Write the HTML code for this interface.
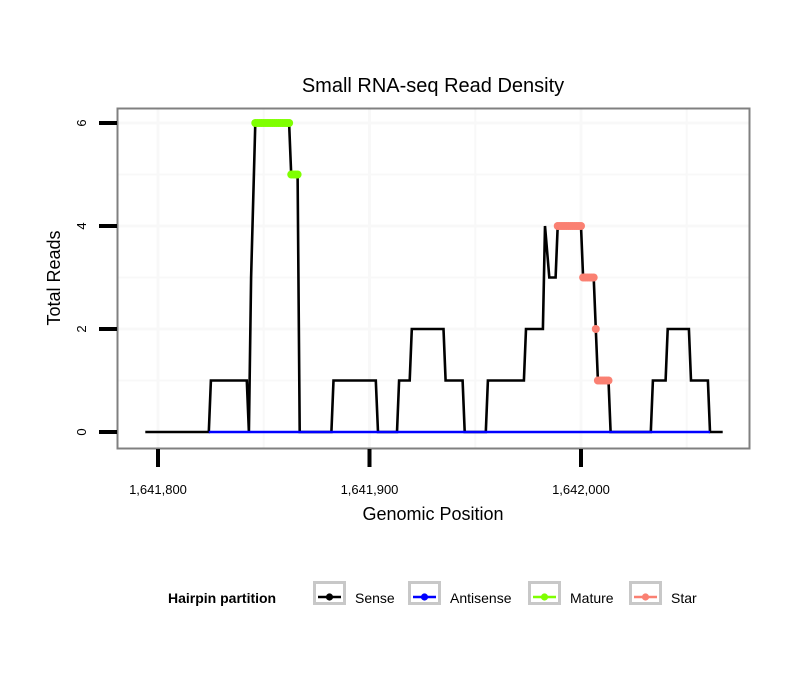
<!DOCTYPE html>
<html><head><meta charset="utf-8"><style>
html,body{margin:0;padding:0;background:#fff;}
svg{display:block;font-family:"Liberation Sans",sans-serif;}
</style></head><body>
<svg id="chart" width="810" height="690" viewBox="0 0 810 690">
<rect x="0" y="0" width="810" height="690" fill="#fff"/>
<text x="433" y="92" font-size="20" text-anchor="middle" fill="#000">Small RNA-seq Read Density</text>
<g id="grid"></g>
<g id="series"></g>
<rect x="117.5" y="108.5" width="632" height="340" fill="none" stroke="#808080" stroke-width="2"/>
<g id="axes"></g>
<text x="433" y="520" font-size="18" text-anchor="middle">Genomic Position</text>
<text transform="translate(60,278) rotate(-90)" font-size="18" text-anchor="middle">Total Reads</text>
<g>
<text x="168" y="603" font-size="14" font-weight="bold">Hairpin partition</text>
<g id="legend-items"></g>
</g>
</svg>
<script>
const BASE = 1641800;
const sensePos = [-6,24,25,42,43,44,46,62,63,66,67,82,83,103,104,113,114,119,120,135,136,144,145,155,156,173,174,182,183,185,188,189,200,201,206,207,208,213,214,233,234,240,241,251,252,260,261,267];
const senseVal = [0,0,1,1,0,3,6,6,5,5,0,0,1,1,0,0,1,1,2,2,1,1,0,0,1,1,2,2,4,3,3,4,4,3,3,2,1,1,0,0,1,1,2,2,1,1,0,0];
const antisensePos = [24,261];
const antisenseVal = [0,0];
const maturePos = [46,47,48,49,50,51,52,53,54,55,56,57,58,59,60,61,62,63,64,65,66];
const matureVal = [6,6,6,6,6,6,6,6,6,6,6,6,6,6,6,6,6,5,5,5,5];
const starPos = [189,190,191,192,193,194,195,196,197,198,199,200,201,202,203,204,205,206,207,208,209,210,211,212,213];
const starVal = [4,4,4,4,4,4,4,4,4,4,4,4,3,3,3,3,3,3,2,1,1,1,1,1,1];
const xTicks = [0,100,200];
const xTickLabels = ["1,641,800","1,641,900","1,642,000"];
const yTicks = [0,2,4,6];
const yTickLabels = ["0","2","4","6"];
const legendLabels = ["Sense","Antisense","Mature","Star"];
const legendColors = ["#000000","#0000ff","#7fff00","#fa8072"];

const NS = "http://www.w3.org/2000/svg";
const px = p => 158 + p * 2.115;
const py = v => 432 - v * 51.5;
function mk(tag, attrs, parent){const e=document.createElementNS(NS,tag);for(const k in attrs)e.setAttribute(k,attrs[k]);parent.appendChild(e);return e;}

const grid = document.getElementById('grid');
for (let v = 1; v <= 6; v++) {
  const g = mk('line',{x1:118,x2:749,y1:py(v),y2:py(v),stroke:'#f8f8f8','stroke-width':v%2?2:3},grid);
  
  
}
for (let p = -50; p <= 300; p += 50) {
  const x = px(p); if (x < 118 || x > 749) continue;
  const g = mk('line',{x1:x,x2:x,y1:109,y2:448,stroke:'#f8f8f8','stroke-width':p%100?2:3},grid);
  
  
}

const series = document.getElementById('series');
function path(pos, val){return pos.map((p,i)=>(i?'L':'M')+px(p).toFixed(1)+','+py(val[i]).toFixed(1)).join(' ');}
const sense = mk('path',{d:path(sensePos,senseVal),fill:'none',stroke:'#000','stroke-width':2.6,'stroke-linejoin':'miter'},series);


const anti = mk('path',{d:path(antisensePos,antisenseVal),fill:'none',stroke:'#0000ff','stroke-width':2.6},series);


function drawPts(pos,val,color,name){
  pos.forEach((p,i)=>{
    const c = mk('circle',{cx:px(p),cy:py(val[i]),r:4,fill:color},series);
    
    
  });
}
drawPts(maturePos,matureVal,'#7fff00','mature-point');
drawPts(starPos,starVal,'#fa8072','star-point');

const axes = document.getElementById('axes');
xTicks.forEach((t,i)=>{
  const l = mk('line',{x1:px(t),x2:px(t),y1:449,y2:467,stroke:'#000','stroke-width':4},axes);
  
  
  const tx = mk('text',{x:px(t),y:494,'font-size':13,'text-anchor':'middle'},axes);
  tx.textContent = xTickLabels[i];
  
  
});
yTicks.forEach((t,i)=>{
  const l = mk('line',{x1:99,x2:117,y1:py(t),y2:py(t),stroke:'#000','stroke-width':4},axes);
  
  
  const tx = mk('text',{transform:`translate(86,${py(t)}) rotate(-90)`,'font-size':13,'text-anchor':'middle'},axes);
  tx.textContent = yTickLabels[i];
  
  
});

const li = document.getElementById('legend-items');
const boxX = [313,408,528,629];
legendLabels.forEach((lab,i)=>{
  const x = boxX[i];
  const b = mk('rect',{x:x+1.5,y:582.5,width:30,height:21,fill:'#fff',stroke:'#c8c8c8','stroke-width':3},li);
  
  
  const l = mk('line',{x1:x+5,x2:x+28,y1:597,y2:597,stroke:legendColors[i],'stroke-width':2.4},li);
  
  
  const c = mk('circle',{cx:x+16.5,cy:597,r:3.6,fill:legendColors[i]},li);
  
  
  const t = mk('text',{x:x+42,y:603,'font-size':14},li);
  t.textContent = lab;
  
  
});
</script>
</body></html>
